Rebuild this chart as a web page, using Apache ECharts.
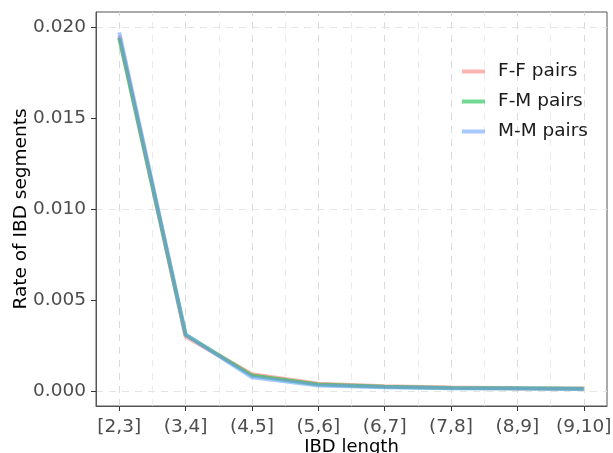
<!DOCTYPE html>
<html>
<head>
<meta charset="utf-8">
<script src="https://cdn.jsdelivr.net/npm/echarts@6/dist/echarts.min.js"></script>
<style>html,body{margin:0;padding:0;background:#fff}#c{width:613px;height:453px}</style>
</head>
<body>
<div id="c"></div>
<script>
const categories = ['[2,3]', '(3,4]', '(4,5]', '(5,6]', '(6,7]', '(7,8]', '(8,9]', '(9,10]'];
const seriesNames = ['F-F pairs', 'F-M pairs', 'M-M pairs'];
const ffValues = [0.0195, 0.0030, 0.00092, 0.00040, 0.00027, 0.00019, 0.00016, 0.00014];
const fmValues = [0.0194, 0.0031, 0.00085, 0.00036, 0.00024, 0.00017, 0.00015, 0.00013];
const mmValues = [0.0197, 0.0031, 0.00076, 0.00030, 0.00021, 0.00016, 0.00014, 0.00012];
const yTicks = [0, 0.005, 0.010, 0.015, 0.020];
const yMinor = [0.0025, 0.0075, 0.0125, 0.0175];
const xMinor = [0.5, 1.5, 2.5, 3.5, 4.5, 5.5, 6.5];

const colors = ['rgba(248,118,109,0.55)', 'rgba(0,186,56,0.55)', 'rgba(97,156,255,0.55)'];
const font = 'DejaVu Sans';
const xIdx = categories.map((c, i) => i);
const allValues = [ffValues, fmValues, mmValues];

const gridStyle = {color: '#dadada', width: 1, type: [7, 6]};
const minorStyle = {color: '#e6e6e6', width: 0.8, type: [7, 6]};
const gridLines = [];
xIdx.forEach(v => gridLines.push({xAxis: v, lineStyle: gridStyle}));
xMinor.forEach(v => gridLines.push({xAxis: v, lineStyle: minorStyle}));
yTicks.forEach(v => gridLines.push({yAxis: v, lineStyle: gridStyle}));
yMinor.forEach(v => gridLines.push({yAxis: v, lineStyle: minorStyle}));

const series = [{
  type: 'line', name: '_grid', data: [], silent: true, z: 0,
  markLine: {silent: true, z: 0, symbol: ['none', 'none'], label: {show: false}, animation: false, data: gridLines}
}];
allValues.forEach((vals, k) => {
  series.push({
    type: 'line', name: seriesNames[k], z: 10 + k,
    data: vals.map((v, i) => [xIdx[i], v]),
    showSymbol: false, symbol: 'none',
    lineStyle: {color: colors[k], width: 4},
    itemStyle: {color: colors[k]},
    color: colors[k]
  });
});

const chart = echarts.init(document.getElementById('c'), null, {renderer: 'canvas'});
chart.setOption({
  animation: false,
  backgroundColor: '#fff',
  textStyle: {fontFamily: font},
  grid: {left: 96, right: 6, top: 12, bottom: 47, containLabel: false, outerBoundsMode: 'none', show: true, borderColor: '#555', borderWidth: 1, backgroundColor: 'transparent'},
  legend: {
    data: seriesNames.map((n, k) => ({name: n, itemStyle: {color: colors[k]}})),
    orient: 'vertical', left: 462, top: 62, padding: 0,
    icon: 'rect', itemWidth: 23, itemHeight: 4, itemGap: 11,
    textStyle: {fontFamily: font, fontSize: 18.5, color: '#1a1a1a', padding: [0, 0, 0, 8]}
  },
  xAxis: {
    type: 'value', min: -0.35, max: 7.35,
    name: 'IBD length', nameLocation: 'middle', nameGap: 32, nameMoveOverlap: false,
    nameTextStyle: {fontFamily: font, fontSize: 18, color: '#000'},
    axisLine: {show: true, onZero: false, lineStyle: {color: '#555'}},
    axisTick: {show: true, length: 5, customValues: xIdx, lineStyle: {color: '#333'}},
    axisLabel: {customValues: xIdx, formatter: v => categories[Math.round(v)], fontFamily: font, fontSize: 18.5, color: '#4d4d4d', margin: 12},
    splitLine: {show: false}
  },
  yAxis: {
    type: 'value', min: -0.00082, max: 0.02082,
    name: 'Rate of IBD segments', nameLocation: 'middle', nameGap: 65, nameRotate: 90, nameMoveOverlap: false,
    nameTextStyle: {fontFamily: font, fontSize: 18.5, color: '#000'},
    axisLine: {show: true, onZero: false, lineStyle: {color: '#555'}},
    axisTick: {show: true, length: 5, customValues: yTicks, lineStyle: {color: '#333'}},
    axisLabel: {customValues: yTicks, formatter: v => v.toFixed(3), fontFamily: font, fontSize: 18.5, color: '#4d4d4d', margin: 10},
    splitLine: {show: false}
  },
  series: series
});
</script>
</body>
</html>
